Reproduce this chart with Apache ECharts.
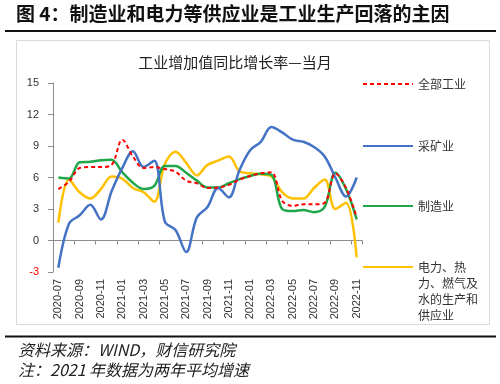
<!DOCTYPE html>
<html>
<head>
<meta charset="utf-8">
<script src="https://cdn.jsdelivr.net/npm/echarts@6/dist/echarts.min.js"></script>
<style>
html,body{margin:0;padding:0;background:#fff;}
#main{width:500px;height:384px;}
</style>
</head>
<body>
<div id="main"></div>
<script>
const categories = ['2020-07','2020-08','2020-09','2020-10','2020-11','2020-12',
  '2021-01','2021-02','2021-03','2021-04','2021-05','2021-06','2021-07','2021-08','2021-09','2021-10','2021-11','2021-12',
  '2022-01','2022-02','2022-03','2022-04','2022-05','2022-06','2022-07','2022-08','2022-09','2022-10','2022-11'];
const yTicks = [-3, 0, 3, 6, 9, 12, 15];
const seriesNames = ['全部工业', '采矿业', '制造业', '电力、热力、燃气及水的生产和供应业'];
const total = [4.9, 5.6, 6.9, 7.0, 7.0, 7.2, 9.6, 8.0, 6.9, 7.0, 6.8, 6.55, 5.7, 5.45, 5.0, 5.05, 5.3, 5.8, 6.15, 6.4, 6.5, 3.8, 3.3, 3.45, 3.45, 3.6, 6.4, 5.0, 2.2];
const mining = [-2.6, 1.6, 2.4, 3.4, 2.0, 4.7, 6.9, 8.5, 7.0, 7.6, 1.8, 1.0, -1.1, 2.2, 3.2, 5.0, 4.1, 6.7, 8.6, 9.4, 10.8, 10.3, 9.6, 9.4, 8.9, 8.0, 6.0, 4.2, 6.0];
const manuf = [6.0, 5.9, 7.45, 7.5, 7.65, 7.7, 6.5, 5.5, 4.9, 5.2, 7.1, 7.1, 6.45, 5.7, 5.05, 5.05, 5.45, 5.85, 6.15, 6.35, 6.25, 3.0, 2.8, 2.9, 2.7, 3.2, 6.45, 4.9, 2.0];
const utility = [1.7, 5.8, 4.6, 4.0, 4.9, 6.1, 5.9, 5.0, 4.6, 3.7, 7.3, 8.45, 7.4, 6.2, 7.2, 7.6, 8.0, 6.6, 6.4, 6.3, 6.1, 4.6, 4.0, 4.0, 5.0, 5.8, 3.0, 3.6, -1.6];

const FONT = '"Noto Sans CJK SC", "Liberation Sans", sans-serif';
const chart = echarts.init(document.getElementById('main'), null, {renderer: 'canvas'});

function legendFor(name, top, extra) {
  return Object.assign({
    data: [name],
    orient: 'vertical',
    left: 362,
    top: top,
    padding: 0,
    itemWidth: 50,
    itemHeight: 14,
    selectedMode: false,
    itemStyle: {opacity: 0},
    textStyle: {fontFamily: FONT, fontSize: 12, color: '#333', lineHeight: 14}
  }, extra || {});
}

const option = {
  animation: false,
  backgroundColor: '#fff',
  textStyle: {fontFamily: FONT},
  title: {
    text: '工业增加值同比增长率—当月',
    left: 230, top: 50, textAlign: 'center',
    textStyle: {fontFamily: FONT, fontSize: 15, fontWeight: 'normal', color: '#222'}
  },
  graphic: [
    {type: 'text', left: 16, top: 4, style: {text: '图 4：制造业和电力等供应业是工业生产回落的主因', font: 'bold 19px ' + FONT, fill: '#111'}},
    {type: 'line', shape: {x1: 5, y1: 31, x2: 496, y2: 31}, style: {stroke: '#111', lineWidth: 2}},
    {type: 'rect', shape: {x: 16.5, y: 40.5, width: 473, height: 284}, style: {fill: 'none', stroke: '#d9d9d9', lineWidth: 1}, z: -1},
    {type: 'line', shape: {x1: 5, y1: 336.5, x2: 496, y2: 336.5}, style: {stroke: '#111', lineWidth: 2}},
    {type: 'text', left: 18, top: 342, style: {text: '资料来源：WIND，财信研究院', font: 'italic 16px ' + FONT, fill: '#222'}},
    {type: 'text', left: 18, top: 362, style: {text: '注：2021 年数据为两年平均增速', font: 'italic 16px ' + FONT, fill: '#222'}}
  ],
  legend: [
    legendFor(seriesNames[0], 77),
    legendFor(seriesNames[1], 139),
    legendFor(seriesNames[2], 199),
    legendFor(seriesNames[3], 267 - 56, {
      formatter: function () { return '\n\n\n电力、热\n力、燃气及\n水的生产和\n供应业'; },
      textStyle: {fontFamily: FONT, fontSize: 12, color: '#333', lineHeight: 16}
    })
  ],
  grid: {left: 53, right: 138, top: 83, bottom: 112},
  xAxis: [
    {
      type: 'category', data: categories, boundaryGap: true, position: 'bottom',
      axisLine: {show: false, onZero: false},
      axisTick: {show: false},
      axisLabel: {interval: 1, rotate: 90, fontSize: 11, color: '#333', margin: 7, fontFamily: '"Liberation Sans", Arial, sans-serif'}
    },
    {
      type: 'category', data: categories, boundaryGap: true, position: 'bottom',
      axisLine: {show: true, onZero: true, lineStyle: {color: '#8c8c8c', width: 1}},
      axisTick: {show: true, interval: 1, length: 4, lineStyle: {color: '#8c8c8c'}},
      axisLabel: {show: false}
    }
  ],
  yAxis: {
    type: 'value', min: yTicks[0], max: yTicks[yTicks.length - 1], interval: 3,
    axisLine: {show: true, lineStyle: {color: '#8c8c8c'}},
    axisTick: {show: true, length: 5, inside: false, lineStyle: {color: '#8c8c8c'}},
    splitLine: {show: false},
    axisLabel: {
      fontSize: 11, margin: 14, fontFamily: '"Liberation Sans", Arial, sans-serif',
      color: function (v) { return Number(v) < 0 ? '#ff0000' : '#333'; }
    }
  },
  series: [
    {name: seriesNames[3], type: 'line', data: utility, smooth: 0.35, symbol: 'none',
      lineStyle: {color: '#ffc000', width: 2.5}, itemStyle: {color: '#ffc000'}},
    {name: seriesNames[2], type: 'line', data: manuf, smooth: 0.35, symbol: 'none',
      lineStyle: {color: '#1fa64a', width: 2.5}, itemStyle: {color: '#1fa64a'}},
    {name: seriesNames[1], type: 'line', data: mining, smooth: 0.35, symbol: 'none',
      lineStyle: {color: '#4472c4', width: 2.5}, itemStyle: {color: '#4472c4'}},
    {name: seriesNames[0], type: 'line', data: total, smooth: 0.35, symbol: 'none',
      lineStyle: {color: '#ff0000', width: 2, type: [4, 3]}, itemStyle: {color: '#ff0000'}}
  ]
};
chart.setOption(option);
</script>
</body>
</html>
